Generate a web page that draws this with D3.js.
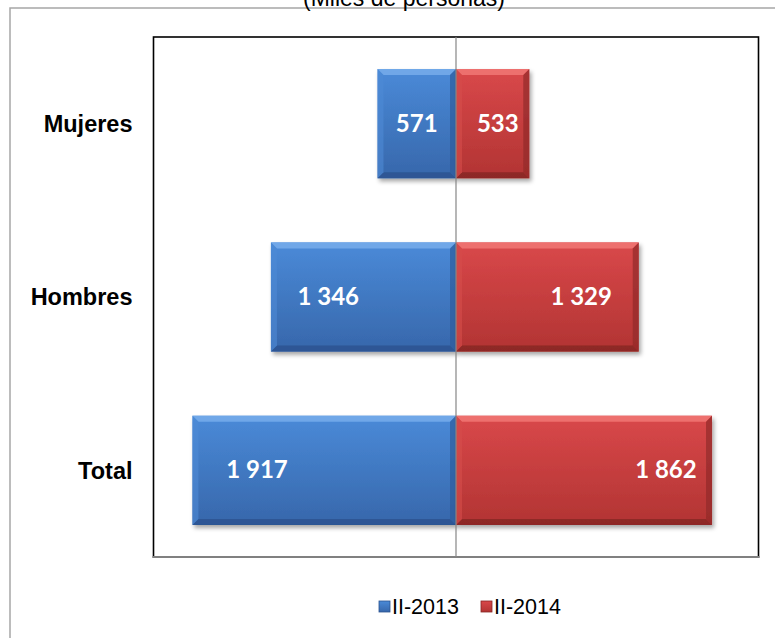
<!DOCTYPE html>
<html>
<head>
<meta charset="utf-8">
<script src="https://cdn.jsdelivr.net/npm/d3@7"></script>
<style>
  html, body { margin: 0; padding: 0; background: #fff; }
  svg { display: block; }
</style>
</head>
<body>
<svg id="chart" width="775" height="638"></svg>
<script>
const categories = ["Mujeres", "Hombres", "Total"];
const seriesNames = ["II-2013", "II-2014"];
const values2013 = [571, 1346, 1917];
const values2014 = [533, 1329, 1862];
const title = "(Miles de personas)";

const fmt = v => d3.format(",")(v).replace(/,/g, " ");

const svg = d3.select("#chart");
const plot = { left: 153.5, right: 758.5, top: 37, bottom: 557 };

const defs = svg.append("defs");
const shadow = defs.append("filter").attr("id", "shadow")
  .attr("x", "-10%").attr("y", "-10%").attr("width", "130%").attr("height", "140%");
shadow.append("feDropShadow").attr("dx", 2).attr("dy", 3).attr("stdDeviation", 2.2)
  .attr("flood-color", "#000").attr("flood-opacity", 0.35);

const palettes = {
  blue: { top: "#4a8ad8", bot: "#3767ab", bTop: "#74abea", bBot: "#2b5390", bL: "#4f8bd6", bR: "#2e5c9c" },
  red:  { top: "#d9484a", bot: "#b23433", bTop: "#f07472", bBot: "#872725", bL: "#d54c4b", bR: "#922a29" }
};
Object.entries(palettes).forEach(([k, p]) => {
  const g = defs.append("linearGradient").attr("id", "grad-" + k)
    .attr("x1", 0).attr("y1", 0).attr("x2", 0).attr("y2", 1);
  g.append("stop").attr("offset", "0%").attr("stop-color", p.top);
  g.append("stop").attr("offset", "100%").attr("stop-color", p.bot);
});

// outer frame
svg.append("rect").attr("x", 10).attr("y", 8).attr("width", 800).attr("height", 700)
  .attr("fill", "#fff").attr("stroke", "#a6a6a6").attr("stroke-width", 1.5);

// title
svg.append("text").attr("x", 404).attr("y", 6).attr("text-anchor", "middle")
  .attr("font-family", "Liberation Sans, Arial, sans-serif").attr("font-size", 23)
  .attr("fill", "#000").text(title);

const maxAbs = 2200;
const x = d3.scaleLinear().domain([-maxAbs, maxAbs]).range([plot.left, plot.right]);
const y = d3.scaleBand().domain(categories).range([plot.top, plot.bottom])
  .paddingInner(0.37).paddingOuter(0.185);

// plot area border
svg.append("rect").attr("x", plot.left).attr("y", plot.top)
  .attr("width", plot.right - plot.left).attr("height", plot.bottom - plot.top)
  .attr("fill", "#fff").attr("stroke", "#000").attr("stroke-width", 1.6);
svg.append("line").attr("x1", plot.left - 1).attr("x2", plot.right + 1)
  .attr("y1", plot.bottom).attr("y2", plot.bottom)
  .attr("stroke", "#808080").attr("stroke-width", 2.2);

function bevelBar(g, x0, x1, y0, y1, pal, key) {
  const b = 6;
  const grp = g.append("g").attr("filter", "url(#shadow)");
  grp.append("rect").attr("x", x0).attr("y", y0).attr("width", x1 - x0).attr("height", y1 - y0)
    .attr("fill", `url(#grad-${key})`);
  const poly = (pts, fill, op) => grp.append("polygon")
    .attr("points", pts.map(p => p.join(",")).join(" ")).attr("fill", fill).attr("opacity", op);
  poly([[x0, y0], [x1, y0], [x1 - b, y0 + b], [x0 + b, y0 + b]], pal.bTop, 0.9);
  poly([[x0, y1], [x1, y1], [x1 - b, y1 - b], [x0 + b, y1 - b]], pal.bBot, 0.85);
  poly([[x0, y0], [x0 + b, y0 + b], [x0 + b, y1 - b], [x0, y1]], pal.bL, 0.6);
  poly([[x1, y0], [x1 - b, y0 + b], [x1 - b, y1 - b], [x1, y1]], pal.bR, 0.7);
}

const barsG = svg.append("g");
const labelFrac2013 = [0.5, 0.69, 0.755];
const labelFrac2014 = [0.57, 0.685, 0.82];

categories.forEach((c, i) => {
  const y0 = y(c), y1 = y(c) + y.bandwidth();
  bevelBar(barsG, x(-values2013[i]), x(0), y0, y1, palettes.blue, "blue");
  bevelBar(barsG, x(0), x(values2014[i]), y0, y1, palettes.red, "red");
});

// center axis line
svg.append("line").attr("x1", x(0)).attr("x2", x(0)).attr("y1", plot.top).attr("y2", plot.bottom)
  .attr("stroke", "#868686").attr("stroke-width", 1.2);

// data labels
const lab = svg.append("g").attr("font-family", "Lato, 'Open Sans', sans-serif")
  .attr("font-weight", "bold").attr("font-size", 24).attr("fill", "#fff")
  .attr("text-anchor", "middle");
categories.forEach((c, i) => {
  const cy = y(c) + y.bandwidth() / 2 + 8;
  lab.append("text").attr("x", x(-values2013[i] * labelFrac2013[i])).attr("y", cy).text(fmt(values2013[i]));
  lab.append("text").attr("x", x(values2014[i] * labelFrac2014[i])).attr("y", cy).text(fmt(values2014[i]));
});

// category axis labels
const yAxis = d3.axisLeft(y).tickSize(0).tickPadding(21);
const yg = svg.append("g").attr("transform", `translate(${plot.left},0)`).call(yAxis);
yg.select(".domain").remove();
yg.selectAll("text").attr("font-family", "Liberation Sans, Arial, sans-serif")
  .attr("font-weight", "bold").attr("font-size", 23.5).attr("fill", "#000")
  .attr("dy", "0.35em");

// legend
const legend = svg.append("g").attr("font-family", "Liberation Sans, Arial, sans-serif")
  .attr("font-size", 21.5);
const legItems = [
  { name: seriesNames[0], key: "blue", x: 379 },
  { name: seriesNames[1], key: "red", x: 481 }
];
legItems.forEach(it => {
  const p = palettes[it.key];
  legend.append("rect").attr("x", it.x).attr("y", 601).attr("width", 11).attr("height", 11)
    .attr("fill", `url(#grad-${it.key})`).attr("stroke", p.bBot).attr("stroke-width", 0.8);
  legend.append("text").attr("x", it.x + 13).attr("y", 613.5).attr("fill", "#000").text(it.name);
});
</script>
</body>
</html>
